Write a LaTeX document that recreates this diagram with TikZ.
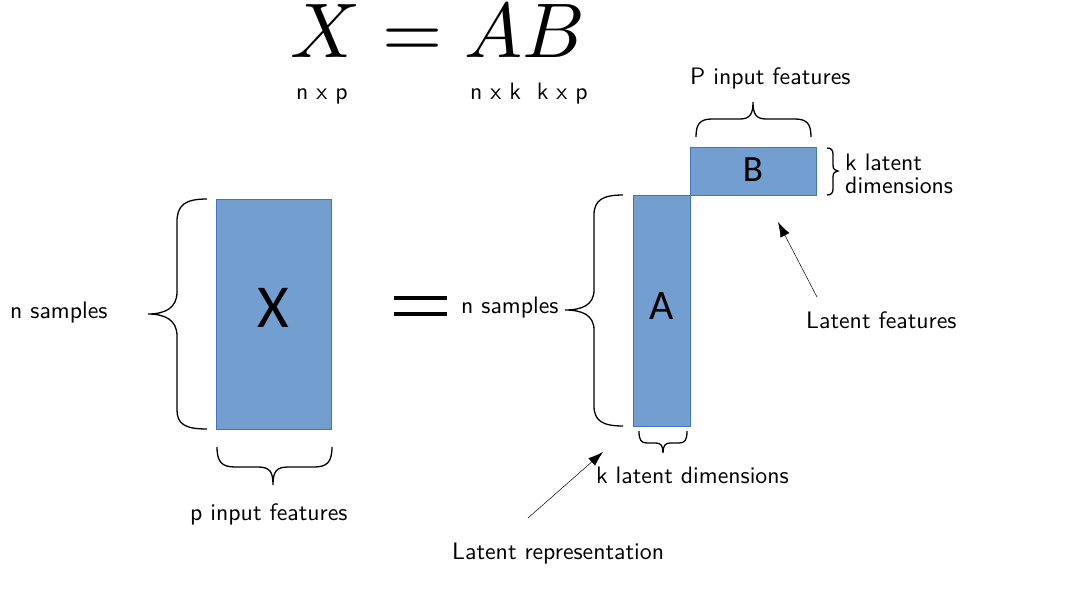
\documentclass[tikz,border=0pt]{standalone}
\usepackage{fontspec}
\newfontfamily\carl{Carlito}
\IfFontExistsTF{lmsans10-regular.otf}
  {\newfontfamily\lblfam{lmsans10-regular.otf}}
  {\newcommand{\lblfam}{\sffamily\addfontfeatures{FakeStretch=1.1}}}
\usetikzlibrary{arrows.meta}
\definecolor{matfill}{RGB}{114,159,207}
\definecolor{matline}{RGB}{68,114,196}
\newcommand{\lblfont}{\lblfam\fontsize{23.8}{27}\selectfont}
\begin{document}
\begin{tikzpicture}[x=1pt,y=-1pt,
  lbl/.style={font=\lblfont, inner sep=0pt, anchor=base west},
  mat/.style={draw=matline, line width=0.8pt, fill=matfill, inner sep=0pt},
  let/.style={inner sep=0pt},
  brc/.style={line width=1.3pt},
  arr/.style={-{Latex[length=15pt,width=10pt]}, line width=0.5pt}]
\useasboundingbox (0,0) rectangle (1084,595);

% title
\node[anchor=base, inner sep=0pt] (title) at (438,57) {\scalebox{7.75}{$X = AB$}};
\node[lbl] (nxp) at (296,99) {n x p};
\node[lbl] (nxk) at (470,99) {n x k~~k x p};

% matrices
\node[mat, minimum width=115, minimum height=230] (X) at (273.5,314) {};
\node[mat, minimum width=57, minimum height=231] (A) at (661.5,310.5) {};
\node[mat, minimum width=126, minimum height=48] (B) at (753,171) {};
\node[let] (Xl) at (273.5,308) {\carl\fontsize{61}{61}\selectfont X};
\node[let] (Al) at (661.5,306.5) {\carl\fontsize{42}{42}\selectfont A};
\node[let] (Bl) at (753,170) {\carl\fontsize{37}{37}\selectfont B};

% equals
\draw[line width=3.5pt] (394,298) -- (447,298);
\draw[line width=3.5pt] (394,314) -- (447,314);

% braces
\draw[brc] (207,199) .. controls (185,199) and (177,205) .. (177,222) -- (177,292)
  .. controls (177,308) and (165,314) .. (148,314)
  .. controls (165,314) and (177,320) .. (177,336) -- (177,410)
  .. controls (177,424) and (185,429) .. (207,429);
\draw[brc] (623,195) .. controls (603,195) and (594,200) .. (594,215) -- (594,290)
  .. controls (594,305) and (582,310) .. (565,310)
  .. controls (582,310) and (594,315) .. (594,330) -- (594,406)
  .. controls (594,421) and (603,426) .. (623,426);
\draw[brc] (217,447) .. controls (217,462) and (222,467) .. (235,467) -- (258,467)
  .. controls (270,467) and (273,472) .. (273,485)
  .. controls (273,472) and (276,467) .. (288,467) -- (314,467)
  .. controls (327,467) and (332,462) .. (332,447);
\draw[brc] (639,431) .. controls (639,440) and (641,443) .. (647,443) -- (656,443)
  .. controls (661,443) and (663,446) .. (663,453)
  .. controls (663,446) and (665,443) .. (670,443) -- (679,443)
  .. controls (685,443) and (687,440) .. (687,431);
\draw[brc] (696,137) .. controls (696,124) and (700,119) .. (712,119) -- (740,119)
  .. controls (750,119) and (753,114) .. (753,102)
  .. controls (753,114) and (756,119) .. (766,119) -- (795,119)
  .. controls (807,119) and (811,124) .. (811,137);
\draw[brc] (827,148) .. controls (831,148) and (833,150) .. (833,154) -- (833,165)
  .. controls (833,169) and (835,171) .. (838,171)
  .. controls (835,171) and (833,173) .. (833,177) -- (833,189)
  .. controls (833,193) and (831,195) .. (827,195);

% labels
\node[lbl] (pin) at (690,84) {P input features};
\node[lbl] (kl1) at (845,170) {k latent};
\node[lbl] (kl2) at (845,193) {dimensions};
\node[lbl] (ns1) at (10,318) {n samples};
\node[lbl] (ns2) at (461,313) {n samples};
\node[lbl] (pif) at (190,520) {p input features};
\node[lbl] (kld) at (596,483) {k latent dimensions};
\node[lbl] (lr) at (452,559) {Latent representation};
\node[lbl] (lf) at (806,328) {Latent features};

% arrows
\coordinate (lrS) at (528,518);
\coordinate (lrT) at (603,452);
\draw[arr] (lrS) -- (lrT);
\coordinate (lfS) at (817,297);
\coordinate (lfT) at (778,222);
\draw[arr] (lfS) -- (lfT);
\end{tikzpicture}
\end{document}
